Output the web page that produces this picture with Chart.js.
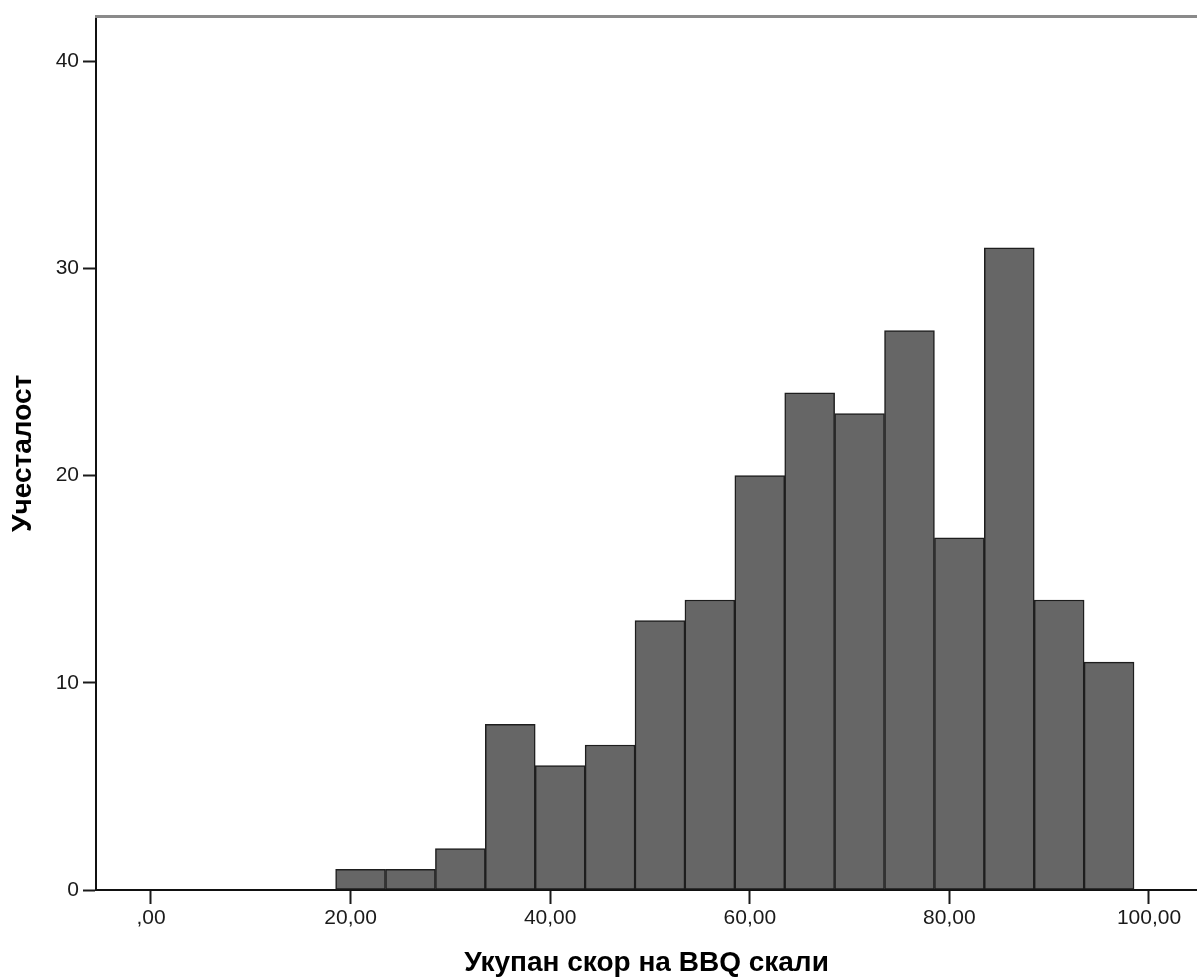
<!DOCTYPE html>
<html>
<head>
<meta charset="utf-8">
<title>Укупан скор на BBQ скали</title>
<script src="https://cdn.jsdelivr.net/npm/chart.js@4.4.1/dist/chart.umd.min.js"></script>
<style>
  html, body { margin: 0; padding: 0; background: #ffffff; }
  canvas { display: block; }
</style>
</head>
<body>
<canvas id="hist" width="1197" height="978"></canvas>
<script>
// Histogram bins (width 5) and frequencies
const binCenters = [21, 26, 31, 36, 41, 46, 51, 56, 61, 66, 71, 76, 81, 86, 91, 96];
const frequencies = [1, 1, 2, 8, 6, 7, 13, 14, 20, 24, 23, 27, 17, 31, 14, 11];

// Axis ticks
const xTickValues = [0, 20, 40, 60, 80, 100];
const xTickLabels = [',00', '20,00', '40,00', '60,00', '80,00', '100,00'];
const yTickValues = [0, 10, 20, 30, 40];
const yTickLabels = ['0', '10', '20', '30', '40'];

const xTitle = 'Укупан скор на BBQ скали';
const yTitle = 'Учесталост';

const FONT = "'Liberation Sans', Arial, sans-serif";

// Gray frame line along the top of the plot area
const topFrame = {
  id: 'topFrame',
  afterDraw(chart) {
    const { ctx, chartArea } = chart;
    ctx.save();
    ctx.strokeStyle = '#8a8a8a';
    ctx.lineWidth = 3;
    ctx.beginPath();
    ctx.moveTo(chartArea.left - 1, chartArea.top);
    ctx.lineTo(chartArea.right, chartArea.top);
    ctx.stroke();
    ctx.restore();
  }
};

new Chart(document.getElementById('hist'), {
  type: 'bar',
  data: {
    datasets: [{
      data: binCenters.map((x, i) => ({ x: x, y: frequencies[i] })),
      backgroundColor: '#666666',
      borderColor: '#1e1e1e',
      borderWidth: 1.5,
      borderSkipped: false,
      barPercentage: 1,
      categoryPercentage: 1
    }]
  },
  options: {
    responsive: false,
    devicePixelRatio: 1,
    animation: false,
    layout: { padding: { top: 16, left: 0, right: 0, bottom: 0 } },
    plugins: {
      legend: { display: false },
      tooltip: { enabled: false }
    },
    scales: {
      x: {
        type: 'linear',
        offset: false,
        min: -5.51,
        max: 104.81,
        afterBuildTicks(scale) { scale.ticks = xTickValues.map(v => ({ value: v })); },
        afterFit(scale) { scale.height = 88; },
        ticks: {
          callback(value) {
            const i = xTickValues.indexOf(value);
            return i >= 0 ? xTickLabels[i] : '';
          },
          maxRotation: 0,
          autoSkip: false,
          padding: 2,
          color: '#1a1a1a',
          font: { family: FONT, size: 21 }
        },
        grid: {
          offset: false,
          drawOnChartArea: false,
          drawTicks: true,
          tickLength: 14,
          tickWidth: 2,
          tickColor: '#1a1a1a'
        },
        border: { display: true, color: '#111111', width: 2 },
        title: {
          display: true,
          text: xTitle,
          color: '#000000',
          font: { family: FONT, size: 28, weight: 'bold', lineHeight: 1 },
          padding: { top: 0, bottom: 1 }
        }
      },
      y: {
        type: 'linear',
        min: 0,
        max: 42.16,
        afterBuildTicks(scale) { scale.ticks = yTickValues.map(v => ({ value: v })); },
        afterFit(scale) { scale.width = 96; },
        ticks: {
          callback(value) {
            const i = yTickValues.indexOf(value);
            return i >= 0 ? yTickLabels[i] : '';
          },
          autoSkip: false,
          padding: 4,
          color: '#1a1a1a',
          font: { family: FONT, size: 21 }
        },
        grid: {
          drawOnChartArea: false,
          drawTicks: true,
          tickLength: 13,
          tickWidth: 2,
          tickColor: '#1a1a1a'
        },
        border: { display: true, color: '#111111', width: 2 },
        title: {
          display: true,
          text: yTitle,
          color: '#000000',
          font: { family: FONT, size: 28, weight: 'bold', lineHeight: 1 },
          padding: { top: 9, bottom: 0 }
        }
      }
    }
  },
  plugins: [topFrame]
});
</script>
</body>
</html>
